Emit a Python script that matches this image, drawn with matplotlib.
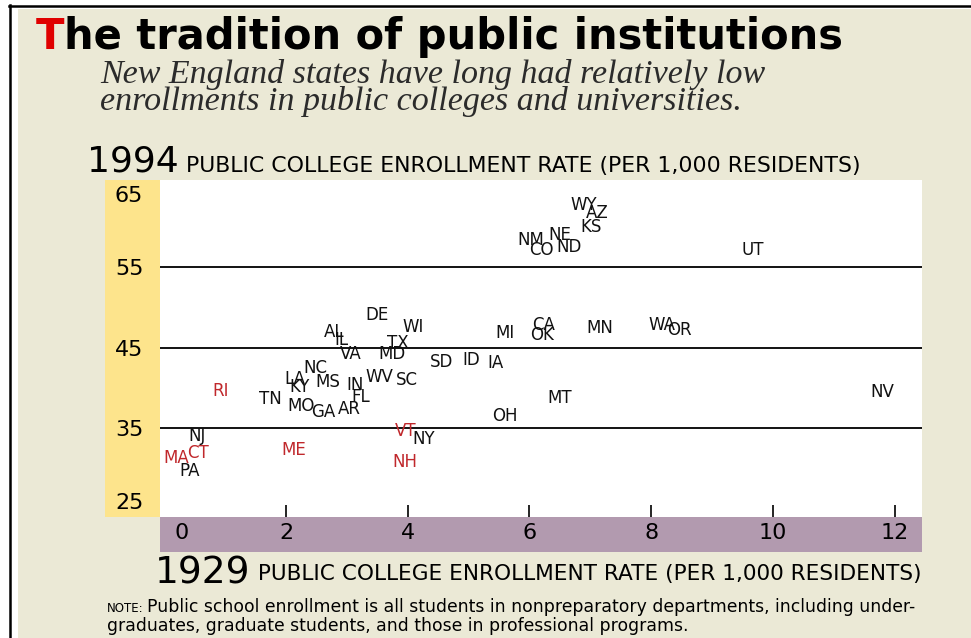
import matplotlib.pyplot as plt
from matplotlib.patches import Rectangle
from matplotlib.lines import Line2D
from matplotlib.transforms import ScaledTranslation

# ── data: 1929 vs 1994 public college enrollment (per 1,000 residents) ────────
states = ['WY', 'AZ', 'KS', 'NM', 'NE', 'CO', 'ND', 'UT', 'DE', 'WI', 'AL', 'IL',
          'TX', 'VA', 'MD', 'MI', 'CA', 'OK', 'MN', 'WA', 'OR', 'NC', 'SD', 'ID',
          'IA', 'LA', 'KY', 'MS', 'IN', 'WV', 'SC', 'RI', 'TN', 'MO', 'FL', 'GA',
          'AR', 'OH', 'MT', 'NV', 'VT', 'NY', 'NJ', 'ME', 'NH', 'CT', 'MA', 'PA']
rate_1929 = [6.90, 7.11, 7.01, 6.03, 6.50, 6.19, 6.65, 9.67, 3.50, 4.09, 2.79, 2.91,
             3.83, 3.07, 3.74, 5.60, 6.24, 6.21, 7.16, 8.18, 8.46, 2.48, 4.55, 5.04,
             5.45, 2.15, 2.22, 2.69, 3.14, 3.53, 3.99, 0.92, 1.74, 2.25, 3.23, 2.61,
             3.04, 5.60, 6.49, 11.79, 3.96, 4.27, 0.54, 2.12, 3.96, 0.56, 0.20, 0.41]
rate_1994 = [62.8, 61.8, 60.0, 58.4, 59.0, 57.2, 57.6, 57.2, 49.1, 47.6, 47.0, 46.0,
             45.6, 44.2, 44.2, 46.8, 47.8, 46.6, 47.5, 47.8, 47.2, 42.5, 43.2, 43.5,
             43.1, 41.1, 40.1, 40.7, 40.4, 41.4, 41.0, 39.6, 38.6, 37.7, 38.9, 37.0,
             37.4, 36.5, 38.7, 39.5, 34.6, 33.6, 34.0, 32.3, 30.8, 31.9, 31.3, 29.6]
new_england = ['RI', 'VT', 'ME', 'NH', 'CT', 'MA']

x_ticks = [0, 2, 4, 6, 8, 10, 12]
y_ticks = [25, 35, 45, 55, 65]
grid_vals = [35, 45, 55]

# ── colours ───────────────────────────────────────────────────────────────────
BEIGE = '#ebe9d6'
YELLOW = '#fde48c'
PURPLE = '#b29aaf'
RED = '#c0282c'
SANS = ['DejaVu Sans']

W, H = 971, 638
fig = plt.figure(figsize=(W / 100, H / 100), dpi=100)
fig.patch.set_facecolor('white')


def fx(px):
    return px / W


def fy(py):
    return 1 - py / H


def nudge(label, dx_px, dy_px):
    # shift a tick label by a few pixels, as in the printed original
    label.set_transform(label.get_transform() +
                        ScaledTranslation(dx_px / 100, dy_px / 100, fig.dpi_scale_trans))


# page background + frame lines
fig.patches.append(Rectangle((fx(18), 0), 1 - fx(18), fy(9), transform=fig.transFigure,
                             facecolor=BEIGE, edgecolor='none', zorder=0))
fig.lines.append(Line2D([fx(9), 1], [fy(6), fy(6)], transform=fig.transFigure,
                        color='black', lw=1.8))
fig.lines.append(Line2D([fx(10), fx(10)], [fy(5), 0], transform=fig.transFigure,
                        color='black', lw=1.8))

# coloured axis strips
fig.patches.append(Rectangle((fx(105), fy(517)), fx(160) - fx(105), fy(180) - fy(517),
                             transform=fig.transFigure, facecolor=YELLOW,
                             edgecolor='none', zorder=1))
fig.patches.append(Rectangle((fx(160), fy(552)), fx(922) - fx(160), fy(517) - fy(552),
                             transform=fig.transFigure, facecolor=PURPLE,
                             edgecolor='none', zorder=1))

# ── main axes ─────────────────────────────────────────────────────────────────
ax = fig.add_axes([fx(160), fy(517), fx(922) - fx(160), fy(180) - fy(517)])
ax.set_zorder(3)
ax.set_facecolor('white')
ax.set_xlim(-0.07, 12.45)
ax.set_ylim(23.9, 65.9)
for s in ax.spines.values():
    s.set_visible(False)

for g in grid_vals:
    ax.axhline(g, color='black', lw=1.3, zorder=1)

for st, x, y in zip(states, rate_1929, rate_1994):
    ax.text(x, y, st, ha='center', va='center', fontsize=12, family='DejaVu Sans',
            color=RED if st in new_england else '#111111', zorder=3)

ax.set_xticks(x_ticks)
ax.set_xticklabels([str(v) for v in x_ticks], fontsize=16, family=SANS)
ax.tick_params(axis='x', direction='in', length=9, width=1.2, color='black', pad=4)
ax.xaxis.get_major_ticks()[0].tick1line.set_visible(False)

ax.set_yticks(y_ticks)
ax.set_yticklabels([str(v) for v in y_ticks], fontsize=16, family=SANS)
ax.tick_params(axis='y', length=0, pad=12)

xt = ax.xaxis.get_major_ticks()
yt = ax.yaxis.get_major_ticks()
nudge(xt[0].label1, 17, 0)
nudge(yt[0].label1, 0, 7)
nudge(yt[-1].label1, 0, -7)

# ── titles and axis captions ─────────────────────────────────────────────────
t = fig.text(fx(36), fy(49), 'T', color='#e00000', fontsize=30, fontweight='bold',
             family='DejaVu Sans', va='baseline', ha='left')
fig.canvas.draw()
ax.annotate('he tradition of public institutions', xy=(1, 0), xycoords=t,
            fontsize=30, fontweight='bold', family='DejaVu Sans', color='black',
            va='bottom', ha='left', annotation_clip=False)

fig.text(fx(100), fy(83), 'New England states have long had relatively low',
         fontsize=24.5, style='italic', family='Liberation Serif', color='#2b2b2b',
         va='baseline')
fig.text(fx(100), fy(110), 'enrollments in public colleges and universities.',
         fontsize=24.5, style='italic', family='Liberation Serif', color='#2b2b2b',
         va='baseline')

y94 = fig.text(fx(87), fy(171), '1994', fontsize=26, family=SANS, va='baseline',
               color='black')
ax.annotate(' PUBLIC COLLEGE ENROLLMENT RATE (PER 1,000 RESIDENTS)', xy=(1, 0),
            xycoords=y94, xytext=(0, 1.5), textcoords='offset points',
            fontsize=15.8, family=SANS, va='bottom', ha='left',
            annotation_clip=False)

y29 = fig.text(fx(155), fy(584), '1929', fontsize=27, family=SANS, va='baseline',
               color='black')
ax.annotate(' PUBLIC COLLEGE ENROLLMENT RATE (PER 1,000 RESIDENTS)', xy=(1, 0),
            xycoords=y29, xytext=(0, 6), textcoords='offset points',
            fontsize=15.6, family=SANS, va='bottom', ha='left',
            annotation_clip=False)

fig.text(fx(107), fy(612), 'NOTE:', fontsize=8.5, family=SANS, va='baseline')
fig.text(fx(147), fy(612),
         'Public school enrollment is all students in nonpreparatory departments, '
         'including under-', fontsize=12.4, family=SANS, va='baseline')
fig.text(fx(107), fy(631),
         'graduates, graduate students, and those in professional programs.',
         fontsize=12.4, family=SANS, va='baseline')

fig.savefig('out.png', dpi=100, facecolor=fig.get_facecolor())
